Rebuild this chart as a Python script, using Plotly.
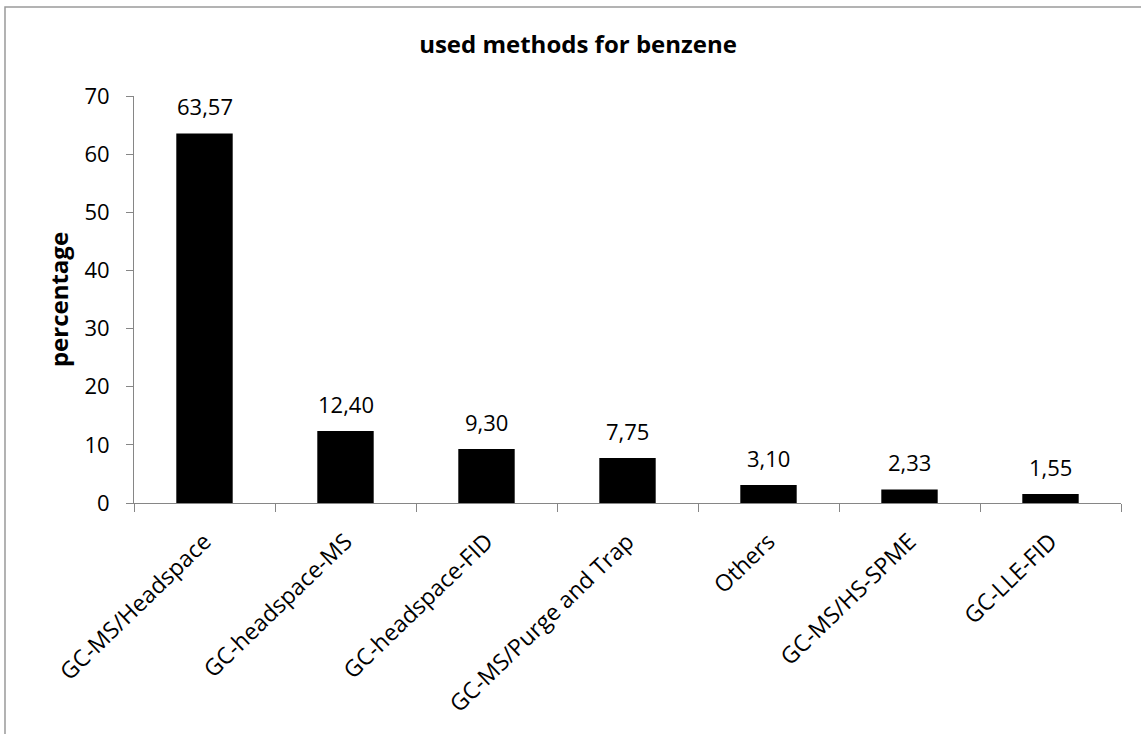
import plotly.graph_objects as go

# methods used for benzene determination, share in percent
methods = ["GC-MS/Headspace", "GC-headspace-MS", "GC-headspace-FID",
           "GC-MS/Purge and Trap", "Others", "GC-MS/HS-SPME", "GC-LLE-FID"]
percentage = [63.57, 12.40, 9.30, 7.75, 3.10, 2.33, 1.55]
y_ticks = [0, 10, 20, 30, 40, 50, 60, 70]

font_name = "Open Sans"
axis_grey = "#868686"

fig = go.Figure()
fig.add_trace(go.Bar(x=methods, y=percentage, marker=dict(color="black", line=dict(width=0)),
                     showlegend=False, hoverinfo="x+y"))

# value labels above the bars, decimal comma like the original
for m, v in zip(methods, percentage):
    fig.add_annotation(x=m, y=v, text=f"{v:.2f}".replace(".", ","), showarrow=False,
                       yanchor="bottom", yshift=10, font=dict(family=font_name, size=22, color="black"))

fig.update_layout(
    width=1141, height=734,
    margin=dict(l=134, r=20, t=96, b=231),
    paper_bgcolor="white", plot_bgcolor="white",
    bargap=0.6,
    title=dict(text="<b>used methods for benzene</b>", x=578 / 1141, xref="container", xanchor="center",
               y=1 - 45 / 734, yref="container", yanchor="middle",
               font=dict(family=font_name, size=24, color="black")),
    font=dict(family=font_name, size=22, color="black"),
)
fig.update_xaxes(tickangle=-44, showline=True, linecolor=axis_grey, linewidth=1,
                 ticks="outside", ticklen=8, tickcolor=axis_grey, tickson="boundaries",
                 ticklabelstandoff=15,
                 tickfont=dict(family=font_name, size=23, color="black"), showgrid=False)
fig.update_yaxes(range=[0, 70], tickvals=y_ticks, showline=True, linecolor=axis_grey, linewidth=1,
                 ticks="outside", ticklen=7, tickcolor=axis_grey, showgrid=False, zeroline=False,
                 ticklabelstandoff=12,
                 tickfont=dict(family=font_name, size=22, color="black"),
                 title=dict(text="<b>percentage</b>", standoff=9,
                            font=dict(family=font_name, size=24, color="black")))

# outer chart frame (only left and top edges fall inside the picture)
fig.add_shape(type="rect", xref="paper", yref="paper", x0=-0.1307, x1=1.05, y0=-0.7, y1=1.2187,
              line=dict(color="#9a9a9a", width=1.5), fillcolor="rgba(0,0,0,0)", layer="below")

# the page's default body margin would shift the chart by 8px
fig.write_html("out.html", config={"displayModeBar": False},
               post_script="document.body.style.margin='0';")
